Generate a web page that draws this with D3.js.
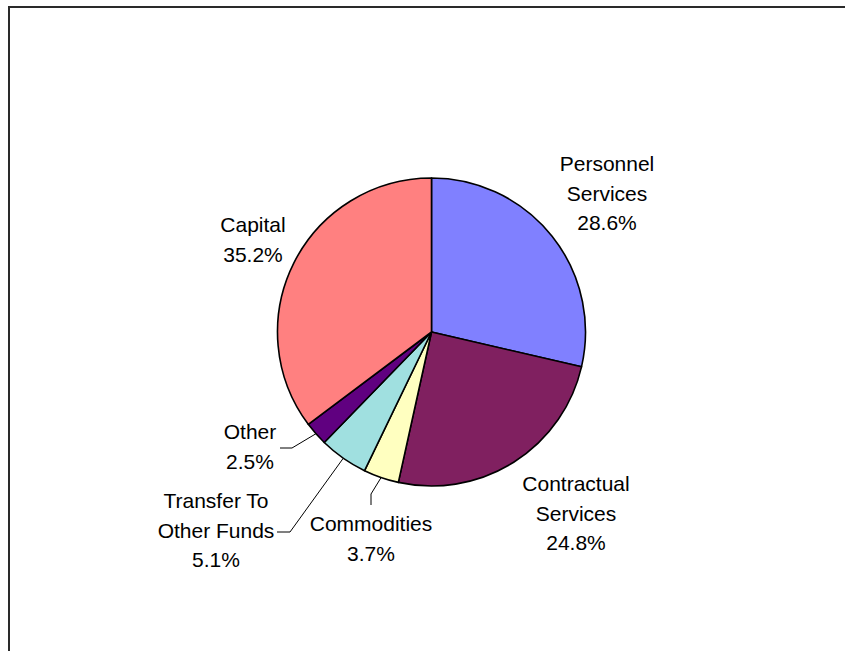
<!DOCTYPE html>
<html>
<head>
<meta charset="utf-8">
<script src="https://cdn.jsdelivr.net/npm/d3@7/dist/d3.min.js"></script>
<style>
  html, body { margin: 0; padding: 0; background: #fff; }
  svg { display: block; }
  text { font-family: "Liberation Sans", Arial, sans-serif; font-size: 21px; fill: #000; }
</style>
</head>
<body>
<svg id="chart" width="845" height="651"></svg>
<script>
// Expenditure categories, clockwise from 12 o'clock
const categories = ["Personnel Services", "Contractual Services", "Commodities",
                    "Transfer To Other Funds", "Other", "Capital"];
const shares = [28.6, 24.8, 3.7, 5.1, 2.5, 35.2];
const labelLines = [
  ["Personnel", "Services"],
  ["Contractual", "Services"],
  ["Commodities"],
  ["Transfer To", "Other Funds"],
  ["Other"],
  ["Capital"]
];
const sliceColors = ["#8080FF", "#802060", "#FFFFC0", "#A0E0E0", "#600080", "#FF8080"];

// Label placement: text anchor (x, first baseline) and optional leader elbow/end
const labelLayout = [
  { x: 607, y: 171 },
  { x: 576, y: 491 },
  { x: 371, y: 531, leader: [[371, 494], [371, 505]] },
  { x: 216, y: 508, leader: [[290, 532], [277, 532]] },
  { x: 250, y: 439, leader: [[292, 448], [280, 448]] },
  { x: 253, y: 232 }
];

const svg = d3.select("#chart");
const cx = 431.5, cy = 332, r = 154, lineH = 29.5;

// Chart area frame (only top and left edges fall inside the view)
svg.append("path")
  .attr("d", "M9,651 V7 H845")
  .attr("fill", "none")
  .attr("stroke", "#2a2a2a")
  .attr("stroke-width", 2);

const pie = d3.pie().sort(null).value(d => d)(shares);
const arc = d3.arc().innerRadius(0).outerRadius(r);

const g = svg.append("g").attr("transform", `translate(${cx},${cy})`);

g.selectAll("path.slice")
  .data(pie)
  .join("path")
  .attr("class", "slice")
  .attr("d", arc)
  .attr("fill", (d, i) => sliceColors[i])
  .attr("stroke", "#000")
  .attr("stroke-width", 1.6)
  .attr("stroke-linejoin", "round");

// Leader lines start on the rim at each slice's mid-angle
pie.forEach((d, i) => {
  const lay = labelLayout[i];
  if (!lay.leader) return;
  const a = (d.startAngle + d.endAngle) / 2;
  const start = [cx + r * Math.sin(a), cy - r * Math.cos(a)];
  svg.append("path")
    .attr("d", d3.line()([start, ...lay.leader]))
    .attr("fill", "none")
    .attr("stroke", "#000")
    .attr("stroke-width", 1);
});

// Category names and percentages
pie.forEach((d, i) => {
  const lay = labelLayout[i];
  const lines = labelLines[i].concat([d3.format(".1f")(shares[i]) + "%"]);
  const t = svg.append("text")
    .attr("text-anchor", "middle")
    .attr("x", lay.x)
    .attr("y", lay.y);
  lines.forEach((s, k) => {
    t.append("tspan")
      .attr("x", lay.x)
      .attr("dy", k === 0 ? 0 : lineH)
      .text(s);
  });
});
</script>
</body>
</html>
